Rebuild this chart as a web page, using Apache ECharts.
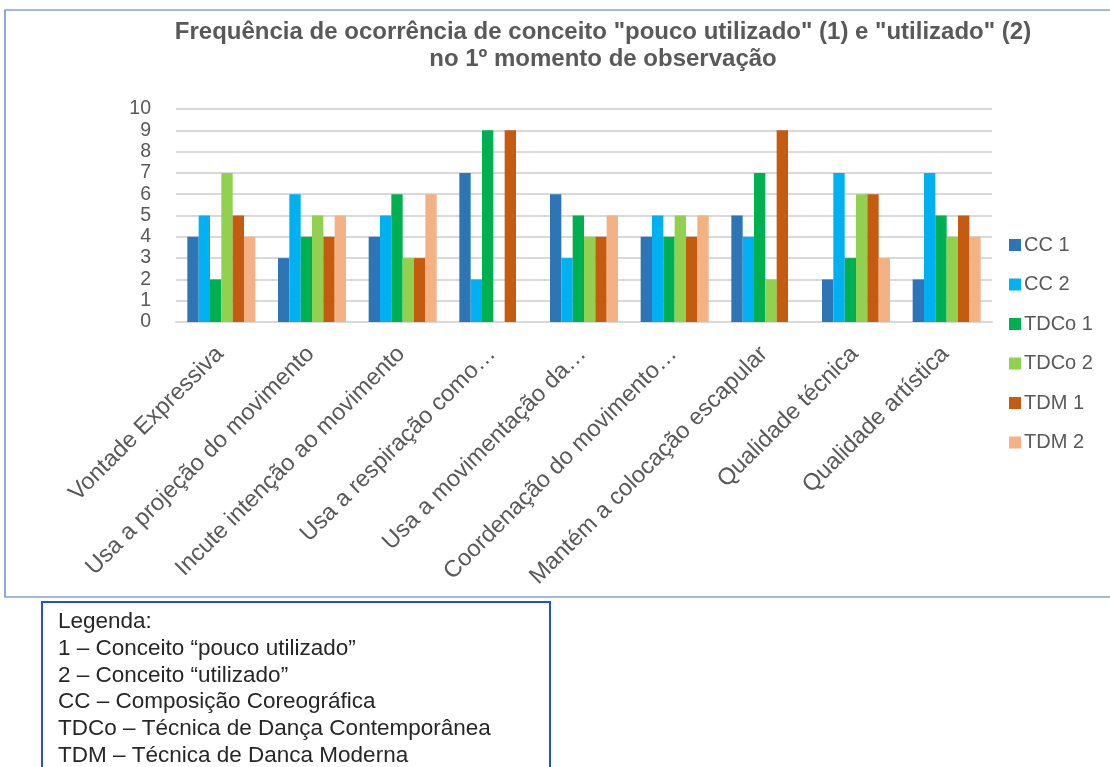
<!DOCTYPE html>
<html>
<head>
<meta charset="utf-8">
<script src="https://cdn.jsdelivr.net/npm/echarts@6/dist/echarts.min.js"></script>
<style>
html,body{margin:0;padding:0;background:#fff;}
#chart{width:1110px;height:767px;}
</style>
</head>
<body>
<div id="chart"></div>
<script>
const categories = [
  "Vontade Expressiva",
  "Usa a projeção do movimento",
  "Incute intenção ao movimento",
  "Usa a respiração como…",
  "Usa a movimentação da…",
  "Coordenação do movimento…",
  "Mantém a colocação escapular",
  "Qualidade técnica",
  "Qualidade artística"
];
const seriesNames = ["CC 1", "CC 2", "TDCo 1", "TDCo 2", "TDM 1", "TDM 2"];
const cc1   = [4, 3, 4, 7, 6, 4, 5, 2, 2];
const cc2   = [5, 6, 5, 2, 3, 5, 4, 7, 7];
const tdco1 = [2, 4, 6, 9, 5, 4, 7, 3, 5];
const tdco2 = [7, 5, 3, 0, 4, 5, 2, 6, 4];
const tdm1  = [5, 4, 3, 9, 4, 4, 9, 6, 5];
const tdm2  = [4, 5, 6, 0, 5, 5, 0, 3, 4];
const yTicks = [0, 1, 2, 3, 4, 5, 6, 7, 8, 9, 10];
const titleText = 'Frequência de ocorrência de conceito "pouco utilizado" (1) e "utilizado" (2)\nno 1º momento de observação';
const noteLines = [
  "Legenda:",
  "1 – Conceito “pouco utilizado”",
  "2 – Conceito “utilizado”",
  "CC – Composição Coreográfica",
  "TDCo – Técnica de Dança Contemporânea",
  "TDM – Técnica de Danca Moderna"
];

const colors = ["#2E75B6", "#00B0F0", "#00B050", "#92D050", "#C55A11", "#F4B183"];
const allData = [cc1, cc2, tdco1, tdco2, tdm1, tdm2];
const FONT = '"Liberation Sans", Arial, sans-serif';

const chart = echarts.init(document.getElementById('chart'), null, {renderer: 'canvas'});

const noteGraphics = noteLines.map((t, i) => ({
  type: 'text',
  left: 58,
  top: 610 + i * 26.9,
  style: {text: t, font: '22.5px ' + FONT, fill: '#262626'}
}));

chart.setOption({
  animation: false,
  color: colors,
  title: {
    text: titleText,
    left: 598,
    textAlign: 'center',
    top: 14,
    textStyle: {fontFamily: FONT, fontSize: 24, fontWeight: 'bold', color: '#595959', lineHeight: 27}
  },
  legend: {
    orient: 'vertical',
    left: 1004,
    top: 230,
    itemWidth: 12,
    itemHeight: 12,
    itemGap: 19.5,
    icon: 'rect',
    data: seriesNames,
    textStyle: {fontFamily: FONT, fontSize: 20, color: '#595959', padding: [0, 0, 0, -2]}
  },
  grid: {left: 176, right: 118, top: 109, bottom: 445, containLabel: false},
  xAxis: {
    type: 'category',
    data: categories,
    axisLine: {show: true, lineStyle: {color: '#d9d9d9', width: 2}},
    axisTick: {show: false},
    axisLabel: {rotate: 45, interval: 0, fontFamily: FONT, fontSize: 23.5, color: '#595959', margin: 10,
      verticalAlign: 'top', padding: [0, 14, 0, 0]}
  },
  yAxis: {
    type: 'value',
    min: 0,
    max: 10,
    interval: 1,
    axisLine: {show: false},
    axisTick: {show: false},
    splitLine: {lineStyle: {color: '#d9d9d9', width: 2}},
    axisLabel: {fontFamily: FONT, fontSize: 19.5, color: '#595959', margin: 25,
      formatter: v => String(yTicks[v])}
  },
  series: seriesNames.map((n, i) => ({
    name: n,
    type: 'bar',
    data: allData[i],
    barGap: '0%',
    barCategoryGap: '25%',
    itemStyle: {color: colors[i]}
  })),
  graphic: [
    {type: 'rect', shape: {x: 5, y: 10, width: 1115, height: 587},
     style: {fill: 'none', stroke: '#4472C4', lineWidth: 1.2}, z: -1},
    {type: 'rect', shape: {x: 42, y: 602, width: 508, height: 175},
     style: {fill: '#fff', stroke: '#2653C4', lineWidth: 2}},
    ...noteGraphics
  ]
});
</script>
</body>
</html>
